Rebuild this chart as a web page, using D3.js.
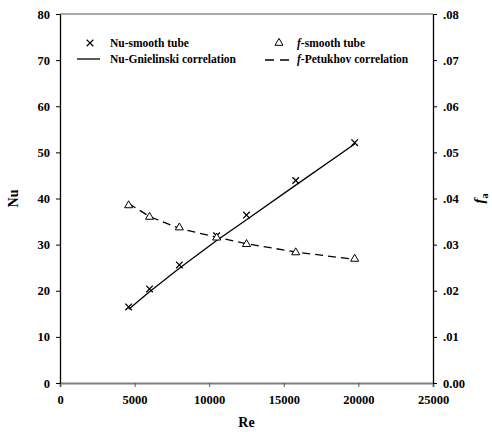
<!DOCTYPE html>
<html>
<head>
<meta charset="utf-8">
<script src="https://cdn.jsdelivr.net/npm/d3@7"></script>
<style>
	body { margin: 0; background: #fff; }
	svg text { font-family: 'Liberation Serif', 'Times New Roman', serif; font-weight: bold; fill: #000; }
</style>
</head>
<body>
<div id="chart"><svg width="492" height="432"></svg></div>
<script>
// data
var reValues = [4600, 6000, 8000, 10500, 12500, 15800, 19750];
var nuSmooth = [16.5, 20.4, 25.6, 31.9, 36.4, 43.9, 52.1];
var nuGnielinski = [16.0, 19.8, 24.9, 30.9, 35.4, 42.9, 51.8];
var fSmooth = [0.0385, 0.0360, 0.0337, 0.0315, 0.0301, 0.0283, 0.0269];
var fPetukhov = [0.0389, 0.0361, 0.0335, 0.0316, 0.0302, 0.0284, 0.0268];

var xTicks = [0, 5000, 10000, 15000, 20000, 25000];
var nuTicks = [0, 10, 20, 30, 40, 50, 60, 70, 80];
var fTicks = [0, 0.01, 0.02, 0.03, 0.04, 0.05, 0.06, 0.07, 0.08];

var margin = { top: 14, left: 60, bottom: 49, right: 59 };
var svg = d3.select('#chart > svg');
var width = 492 - margin.left - margin.right;
var height = 432 - margin.top - margin.bottom;

var xScale = d3.scaleLinear().domain([0, 25000]).range([0, width]);
var yScale = d3.scaleLinear().domain([0, 80]).range([height, 0]);
var fScale = d3.scaleLinear().domain([0, 0.08]).range([height, 0]);

var group = svg.append('g')
	.attr('transform', 'translate(' + [margin.left, margin.top] + ')');

// top frame line
group.append('line')
	.attr('x1', 0).attr('x2', width)
	.attr('y1', 0).attr('y2', 0)
	.attr('stroke', '#555').attr('stroke-width', 1.2);

// axes
var xAxis = group.append('g')
	.attr('transform', 'translate(0,' + height + ')')
	.call(d3.axisBottom(xScale).tickValues(xTicks).tickSize(4).tickPadding(8).tickFormat(d3.format('d')));
xAxis.select('.domain').attr('stroke', '#808080').attr('stroke-width', 2);
xAxis.selectAll('.tick line').attr('stroke', '#555');

var yAxis = group.append('g')
	.call(d3.axisLeft(yScale).tickValues(nuTicks).tickSize(4).tickPadding(6).tickSizeOuter(0));
yAxis.select('.domain').attr('stroke-width', 1.3);

var fAxis = group.append('g')
	.attr('transform', 'translate(' + width + ',0)')
	.call(d3.axisRight(fScale).tickValues(fTicks).tickSize(4).tickPadding(6).tickSizeOuter(0)
		.tickFormat(function(d) { return d === 0 ? '0.00' : d3.format('.2f')(d).replace(/^0/, ''); }));
fAxis.select('.domain').attr('stroke-width', 1.3);

svg.selectAll('.tick text').style('font-size', '12.5px');
svg.selectAll('.domain').attr('fill', 'none');

// axis titles
svg.append('text')
	.attr('x', margin.left + xScale(12500)).attr('y', 427)
	.attr('text-anchor', 'middle')
	.style('font-size', '14px')
	.text('Re');
svg.append('text')
	.attr('transform', 'translate(18,' + (margin.top + height / 2) + ') rotate(-90)')
	.attr('text-anchor', 'middle')
	.style('font-size', '14px')
	.text('Nu');
var fTitle = svg.append('text')
	.attr('transform', 'translate(484,' + (margin.top + height / 2) + ') rotate(-90)')
	.attr('text-anchor', 'middle')
	.style('font-size', '15px');
fTitle.append('tspan').style('font-style', 'italic').text('f');
fTitle.append('tspan').attr('dy', 4).style('font-size', '10px').text('a');

// lines
var nuLine = d3.line()
	.x(function(d, i) { return xScale(reValues[i]); })
	.y(function(d) { return yScale(d); });
var fLine = d3.line()
	.x(function(d, i) { return xScale(reValues[i]); })
	.y(function(d) { return fScale(d); });

group.append('path')
	.datum(nuGnielinski)
	.attr('d', nuLine)
	.attr('fill', 'none').attr('stroke', '#000').attr('stroke-width', 1.3);
group.append('path')
	.datum(fPetukhov)
	.attr('d', fLine)
	.attr('fill', 'none').attr('stroke', '#000').attr('stroke-width', 1.3)
	.attr('stroke-dasharray', '8,5');

// markers
var cross = d3.symbol().type(d3.symbolX).size(30);
var tri = d3.symbol().type(d3.symbolTriangle).size(28);

group.selectAll('.nu.pt')
	.data(nuSmooth)
	.enter().append('path')
	.attr('class', 'nu pt')
	.attr('d', cross)
	.attr('transform', function(d, i) { return 'translate(' + [xScale(reValues[i]), yScale(d)] + ')'; })
	.attr('fill', 'none').attr('stroke', '#000').attr('stroke-width', 1.3);

group.selectAll('.f.pt')
	.data(fSmooth)
	.enter().append('path')
	.attr('class', 'f pt')
	.attr('d', tri)
	.attr('transform', function(d, i) { return 'translate(' + [xScale(reValues[i]), fScale(d)] + ')'; })
	.attr('fill', '#fff').attr('stroke', '#000').attr('stroke-width', 1);

// legend
var legend = svg.append('g');
legend.append('path').attr('d', cross)
	.attr('transform', 'translate(90,43)')
	.attr('fill', 'none').attr('stroke', '#000').attr('stroke-width', 1.2);
legend.append('text').attr('x', 110).attr('y', 47).style('font-size', '11.5px').text('Nu-smooth tube');
legend.append('line').attr('x1', 77).attr('x2', 100).attr('y1', 59).attr('y2', 59)
	.attr('stroke', '#000').attr('stroke-width', 1.3);
legend.append('text').attr('x', 110).attr('y', 63).style('font-size', '11.5px').text('Nu-Gnielinski correlation');

legend.append('path').attr('d', tri)
	.attr('transform', 'translate(279,43)')
	.attr('fill', '#fff').attr('stroke', '#000').attr('stroke-width', 1);
var t1 = legend.append('text').attr('x', 297).attr('y', 47).style('font-size', '11.5px');
t1.append('tspan').style('font-style', 'italic').text('f');
t1.append('tspan').text('-smooth tube');
legend.append('line').attr('x1', 265).attr('x2', 290).attr('y1', 60).attr('y2', 60)
	.attr('stroke', '#000').attr('stroke-width', 1.3).attr('stroke-dasharray', '9,6');
var t2 = legend.append('text').attr('x', 297).attr('y', 63).style('font-size', '11.5px');
t2.append('tspan').style('font-style', 'italic').text('f');
t2.append('tspan').text('-Petukhov correlation');
</script>
</body>
</html>
